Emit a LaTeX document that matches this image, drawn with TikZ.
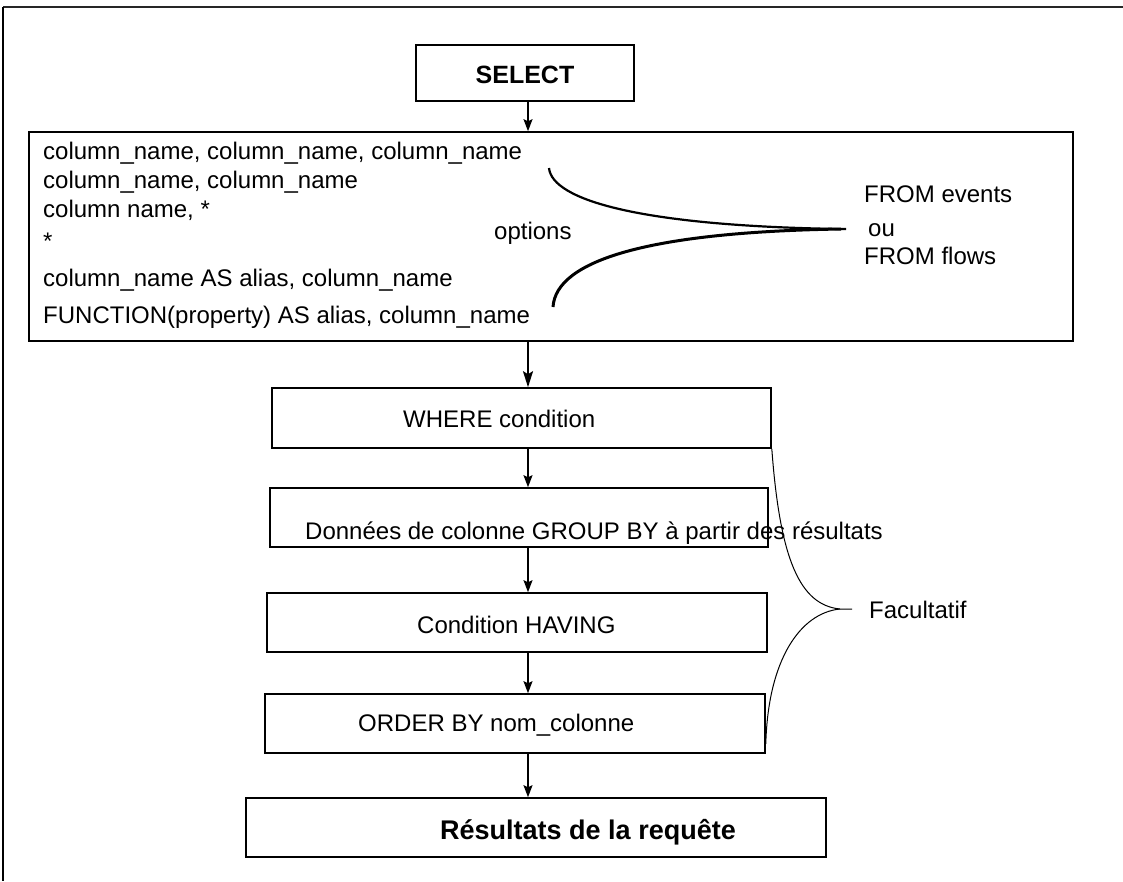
\documentclass[tikz,border=0pt]{standalone}
\usepackage{fontspec}
\setmainfont{Liberation Sans}
\usetikzlibrary{arrows.meta}
\begin{document}
\begin{tikzpicture}[x=1pt,y=-1pt,
  boxnode/.style={draw, line width=1.6pt, inner sep=0pt, rectangle},
  txt/.style={anchor=base west, inner sep=0pt, font=\fontsize{24}{28}\selectfont},
  arr/.style={line width=1.3pt, -{Stealth[length=12pt,width=9pt,inset=2pt]}},
  arrthick/.style={line width=2pt, -{Stealth[length=16pt,width=10pt,inset=3pt]}},
  brace/.style={line width=1pt}]
\useasboundingbox (0,0) rectangle (1123,881);
% frame
\draw[line width=2pt, black!85] (3,7) -- (1123,7);
\draw[line width=1.3pt] (3,7) -- (3,881);

\coordinate (ax) at (528,0);

% boxes
\node[boxnode, minimum width=218pt, minimum height=56pt] (sel) at (525,73) {};
\node[anchor=base, inner sep=0pt, font=\fontsize{25}{28}\selectfont\bfseries] (seltxt) at (525,83) {SELECT};
\node[boxnode, minimum width=1044pt, minimum height=209pt] (main) at (551,236.5) {};
\node[boxnode, minimum width=499pt, minimum height=60pt] (where) at (521.5,418) {};
\node[boxnode, minimum width=498pt, minimum height=59pt] (group) at (519,517.5) {};
\node[boxnode, minimum width=500pt, minimum height=59pt] (having) at (517,622.5) {};
\node[boxnode, minimum width=500pt, minimum height=59pt] (order) at (515,723.5) {};
\node[boxnode, minimum width=580pt, minimum height=59pt] (res) at (536,827.5) {};

% main box text
\node[txt] (l1) at (43,159) {column\_name, column\_name, column\_name};
\node[txt] (l2) at (43,188) {column\_name, column\_name};
\node[txt] (l3) at (43,217) {column name, *};
\node[txt] (l4) at (43,249) {*};
\node[txt] (l5) at (43,286) {column\_name AS alias, column\_name};
\node[txt] (l6) at (43,323) {FUNCTION(property) AS alias, column\_name};
\node[txt] (opt) at (494,239) {options};
\node[txt] (fe) at (864,202) {FROM events};
\node[txt] (ou) at (868,236) {ou};
\node[txt] (ff) at (864,264) {FROM flows};

% lower box texts
\node[txt] (wt) at (403,427) {WHERE condition};
\node[txt] (gt) at (305,539) {Données de colonne GROUP BY à partir des résultats};
\node[txt] (ht) at (417,633) {Condition HAVING};
\node[txt] (ot) at (358,731.5) {ORDER BY nom\_colonne};
\node[txt, font=\fontsize{27}{30}\selectfont\bfseries] (rt) at (440,839) {Résultats de la requête};
\node[txt] (fac) at (869,618) {Facultatif};

% arrows
\draw[arr] (sel.south -| ax) -- (main.north -| ax);
\draw[arrthick] (main.south -| ax) -- (where.north -| ax);
\draw[arr] (where.south -| ax) -- (group.north -| ax);
\draw[arr] (group.south -| ax) -- (having.north -| ax);
\draw[arr] (having.south -| ax) -- (order.north -| ax);
\draw[arr] (order.south -| ax) -- (res.north -| ax);

% options brace
\coordinate (b1s) at (549,168);
\coordinate (b1t) at (841,229);
\coordinate (b1e) at (553,307);
\coordinate (b1x) at (846,229);
\draw[line width=2.2pt] (b1s) .. controls (552,200) and (640,226) .. (b1t) -- (b1x);
\draw[line width=3pt] (b1t) .. controls (650,232) and (556,260) .. (b1e);

% facultatif brace
\coordinate (b2t) at (840,609);
\coordinate (b2x) at (852,609);
\draw[brace] (where.south east) .. controls (780,560) and (800,605) .. (b2t) -- (b2x);
\draw[brace] (b2t) .. controls (800,613) and (768,660) .. ([yshift=10pt]order.south east);
\end{tikzpicture}
\end{document}
